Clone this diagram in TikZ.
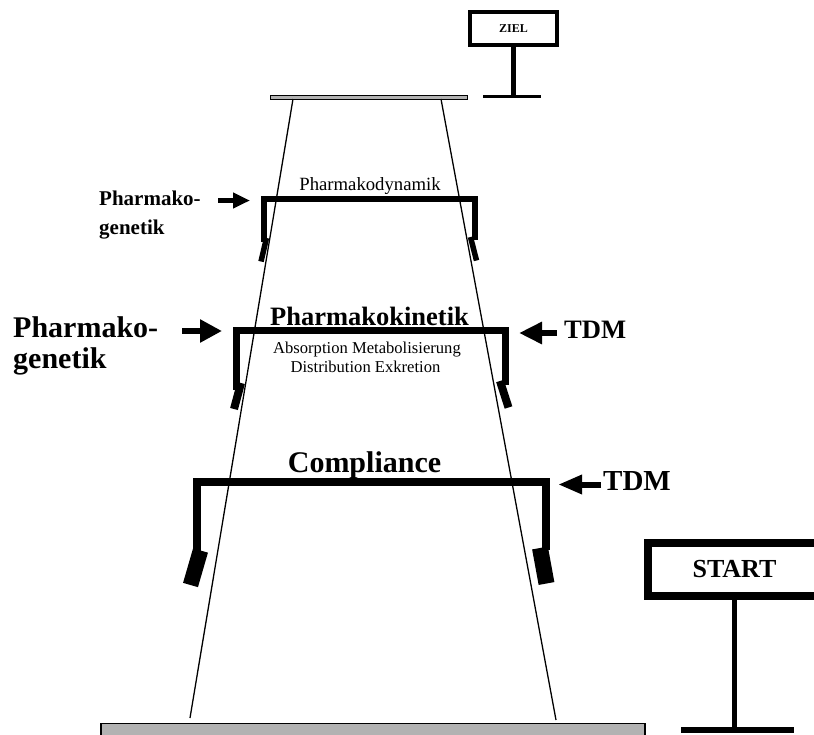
\documentclass[tikz,border=0pt]{standalone}
\usepackage{fontspec}
\setmainfont{Liberation Serif}
\usetikzlibrary{arrows.meta}
\begin{document}
\begin{tikzpicture}[x=1pt,y=-1pt,
  bar/.style={draw=black, fill=gray!60},
  cone/.style={line width=1.3pt},
  bracket/.style={line width=#1, line join=miter, line cap=butt},
  foot/.style={line width=#1, line cap=butt},
  fatarrow/.style n args={3}{line width=#1, -{Triangle[length=#2, width=#3]}},
  sign/.style={draw, line width=#1, inner sep=0pt},
  post/.style={line width=#1, line cap=butt},
  txt/.style={inner sep=0pt, anchor=base},
  txtw/.style={inner sep=0pt, anchor=base west},
]
\useasboundingbox (0,0) rectangle (814,734);

% floor and ceiling
\draw[bar, line width=1.5pt] (101,723.5) rectangle (645,740);
\draw[bar, line width=1pt] (270,95) rectangle (467,99);

% cone
\coordinate (cTL) at (293,99); \coordinate (cBL) at (190,718);
\coordinate (cTR) at (441,99); \coordinate (cBR) at (556,720);
\draw[cone] (cTL) -- (cBL);
\draw[cone] (cTR) -- (cBR);

% Pharmakodynamik bracket
\draw[bracket=6pt] (263.5,242) -- (263.5,199) -- (474.5,199) -- (474.5,240);
\draw[foot=5.5pt] (266.5,238) -- (261,261.5);
\draw[foot=5.5pt] (470.5,237) -- (476.5,260.5);
\node[txt, font=\fontsize{18.7}{20}\selectfont] (dyn) at (370,190) {Pharmakodynamik};

% Pharmakokinetik bracket
\draw[bracket=7pt] (236,390) -- (236,330) -- (505.5,330) -- (505.5,385);
\draw[foot=8pt] (241,383) -- (234,409);
\draw[foot=8pt] (500,381) -- (508.5,407.5);
\node[txt, font=\fontsize{26.5}{28}\selectfont\bfseries] (kin) at (369.5,325) {Pharmakokinetik};
\node[txt, font=\fontsize{16.6}{18}\selectfont] (kin1) at (367,353) {Absorption Metabolisierung};
\node[txt, font=\fontsize{16.6}{18}\selectfont] (kin2) at (365.5,372) {Distribution Exkretion};

% Compliance bracket
\draw[bracket=8pt] (197,552) -- (197,481.5) -- (545.5,481.5) -- (545.5,550);
\draw[foot=15.5pt] (200.5,550.5) -- (190.5,585);
\draw[foot=16pt] (540,548) -- (546.5,583.5);
\node[txt, font=\fontsize{30}{32}\selectfont\bfseries] (comp) at (364.5,472) {Compliance};

% Pharmakogenetik (upper)
\node[txtw, font=\fontsize{21}{22}\selectfont\bfseries] (pga) at (99,205) {Pharmako-};
\node[txtw, font=\fontsize{21}{22}\selectfont\bfseries] (pgb) at (99,234) {genetik};
\coordinate (a1s) at (218,200.5); \coordinate (a1e) at (250,200.5);
\draw[fatarrow={5pt}{17pt}{15pt}] (a1s) -- (a1e);

% Pharmakogenetik (lower)
\node[txtw, font=\fontsize{30}{32}\selectfont\bfseries] (pgc) at (13,337) {Pharmako-};
\node[txtw, font=\fontsize{30}{32}\selectfont\bfseries] (pgd) at (13,368) {genetik};
\coordinate (a2s) at (182,331); \coordinate (a2e) at (222,331);
\draw[fatarrow={6pt}{22pt}{22pt}] (a2s) -- (a2e);

% TDM (upper)
\node[txtw, font=\fontsize{26.6}{28}\selectfont\bfseries] (tdm1) at (564,338) {TDM};
\coordinate (a3s) at (557,333); \coordinate (a3e) at (519,333);
\draw[fatarrow={6pt}{23pt}{21pt}] (a3s) -- (a3e);

% TDM (lower)
\node[txtw, font=\fontsize{29}{30}\selectfont\bfseries] (tdm2) at (603,490) {TDM};
\coordinate (a4s) at (601,484.5); \coordinate (a4e) at (558,484.5);
\draw[fatarrow={6pt}{24pt}{18pt}] (a4s) -- (a4e);

% ZIEL sign
\node[sign=4pt, minimum width=87pt, minimum height=33pt, font=\fontsize{12}{12}\selectfont\bfseries] (ziel) at (513.5,28.5) {ZIEL};
\coordinate (zbase) at (513.5,96.5);
\draw[post=5pt] (ziel.south) -- (zbase);
\coordinate (zbl) at (483,96.5); \coordinate (zbr) at (541,96.5);
\draw[post=3.5pt] (zbl) -- (zbr);

% START sign
\node[sign=8pt, minimum width=173pt, minimum height=52.5pt, font=\fontsize{26}{26}\selectfont\bfseries] (start) at (734.5,569.25) {START};
\coordinate (sbase) at (734.5,730);
\draw[post=5.5pt] (start.south) -- (sbase);
\coordinate (sbl) at (681,730); \coordinate (sbr) at (794,730);
\draw[post=6pt] (sbl) -- (sbr);
\end{tikzpicture}
\end{document}
